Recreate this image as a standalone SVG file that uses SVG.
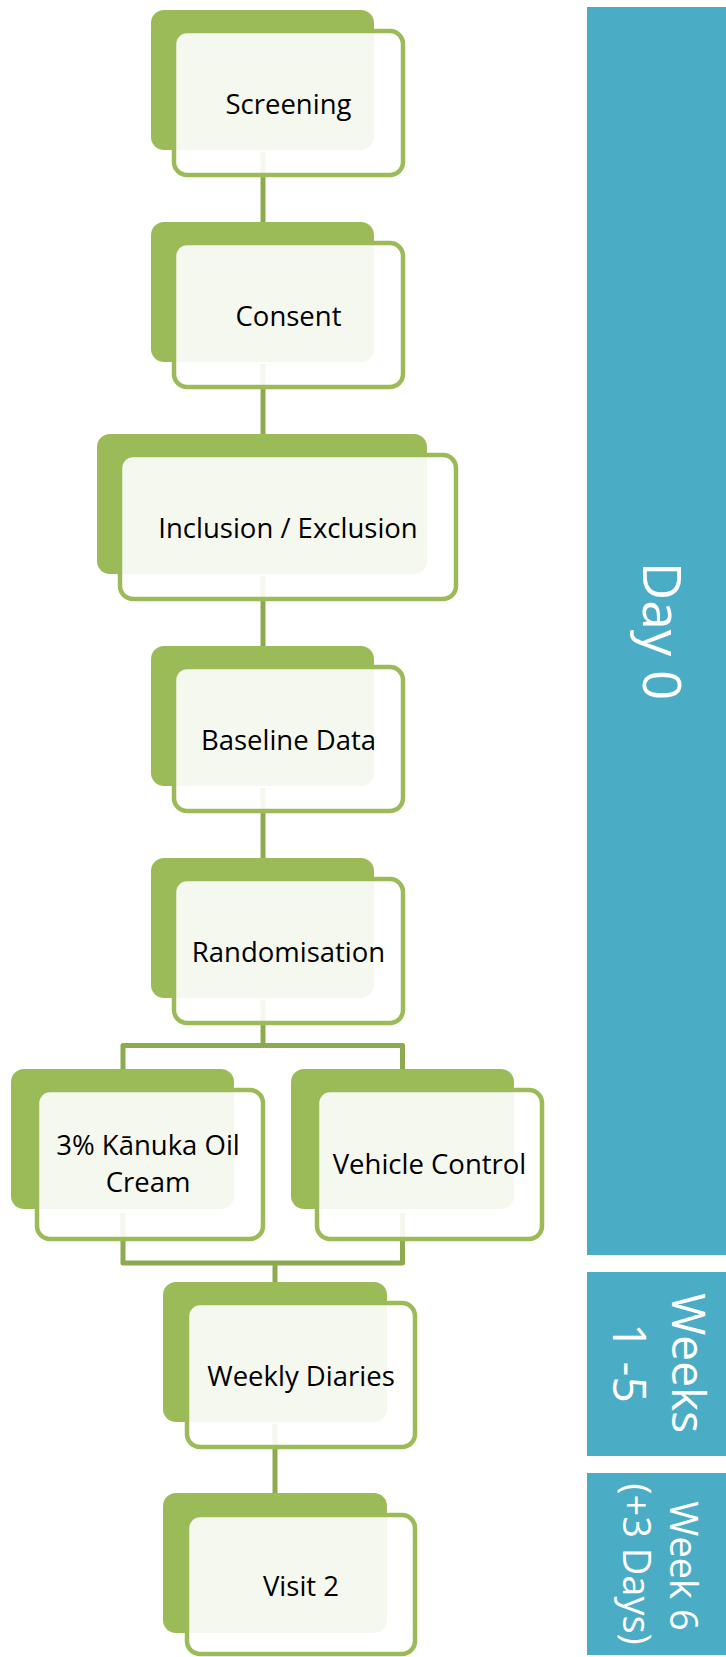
<svg xmlns="http://www.w3.org/2000/svg" width="726" height="1657" viewBox="0 0 726 1657">
<style>
.back{fill:#9BBB59}
.front{fill:#FFFFFF;fill-opacity:0.9;stroke:#9BBB59;stroke-width:4.5}
.conn{fill:none;stroke:#8CAA4E;stroke-width:5;stroke-linejoin:round}
.lbl{font-family:"Open Sans","Noto Sans","Liberation Sans",sans-serif;font-size:27.5px;fill:#000;text-anchor:middle}
.bar{fill:#4BACC6}
.side{font-family:"Open Sans","Noto Sans","Liberation Sans",sans-serif;fill:#FFFFFF;text-anchor:middle}
</style>
<rect width="726" height="1657" fill="#FFFFFF"/>
<g id="connectors">
<path class="conn" d="M263,152 V224"/>
<path class="conn" d="M263,364 V436"/>
<path class="conn" d="M263,576 V648"/>
<path class="conn" d="M263,788 V860"/>
<path class="conn" d="M263,1000 V1045.5"/>
<path class="conn" d="M123,1071 V1045.5 H402.5 V1071"/>
<path class="conn" d="M123,1213 V1263 H402.5 V1213"/>
<path class="conn" d="M275,1263 V1284"/>
<path class="conn" d="M275,1424 V1495"/>
</g>
<g id="screening">
<rect class="back" x="151" y="10" width="223" height="140" rx="13"/>
<rect class="front" x="174" y="31" width="229" height="144" rx="13"/>
<text class="lbl" x="288.5" y="114">Screening</text>
</g>
<g id="consent">
<rect class="back" x="151" y="222" width="223" height="140" rx="13"/>
<rect class="front" x="174" y="243" width="229" height="144" rx="13"/>
<text class="lbl" x="288.5" y="326">Consent</text>
</g>
<g id="inclusion">
<rect class="back" x="97" y="434" width="330" height="140" rx="13"/>
<rect class="front" x="120" y="455" width="336" height="144" rx="13"/>
<text class="lbl" x="288" y="538">Inclusion / Exclusion</text>
</g>
<g id="baseline">
<rect class="back" x="151" y="646" width="223" height="140" rx="13"/>
<rect class="front" x="174" y="667" width="229" height="144" rx="13"/>
<text class="lbl" x="288.5" y="750">Baseline Data</text>
</g>
<g id="randomisation">
<rect class="back" x="151" y="858" width="223" height="140" rx="13"/>
<rect class="front" x="174" y="879" width="229" height="144" rx="13"/>
<text class="lbl" x="288.5" y="962">Randomisation</text>
</g>
<g id="kanuka">
<rect class="back" x="11" y="1069" width="223" height="140" rx="13"/>
<rect class="front" x="37" y="1090" width="226" height="149" rx="13"/>
<text class="lbl" x="148" y="1155">3% Kānuka Oil</text>
<text class="lbl" x="148" y="1192">Cream</text>
</g>
<g id="vehicle">
<rect class="back" x="291" y="1069" width="223" height="140" rx="13"/>
<rect class="front" x="317" y="1090" width="225" height="149" rx="13"/>
<text class="lbl" x="429.5" y="1174">Vehicle Control</text>
</g>
<g id="weekly">
<rect class="back" x="163" y="1282" width="224" height="140" rx="13"/>
<rect class="front" x="187" y="1303" width="228" height="144" rx="13"/>
<text class="lbl" x="301" y="1386">Weekly Diaries</text>
</g>
<g id="visit2">
<rect class="back" x="163" y="1493" width="224" height="140" rx="13"/>
<rect class="front" x="187" y="1515" width="228" height="139" rx="13"/>
<text class="lbl" x="301" y="1596">Visit 2</text>
</g>
<g id="day0">
<rect class="bar" x="587" y="7" width="139" height="1248"/>
<text class="side" font-size="53" transform="translate(643,631) rotate(90)">Day 0</text>
</g>
<g id="weeks1-5">
<rect class="bar" x="587" y="1272" width="139" height="184"/>
<text class="side" font-size="46" transform="translate(672,1363) rotate(90)">Weeks</text>
<text class="side" font-size="46" transform="translate(613,1363) rotate(90)">1 -5</text>
</g>
<g id="week6">
<rect class="bar" x="587" y="1473" width="139" height="182"/>
<text class="side" font-size="38" transform="translate(670,1566) rotate(90)">Week 6</text>
<text class="side" font-size="38" transform="translate(623,1564) rotate(90)">(+3 Days)</text>
</g>
</svg>
